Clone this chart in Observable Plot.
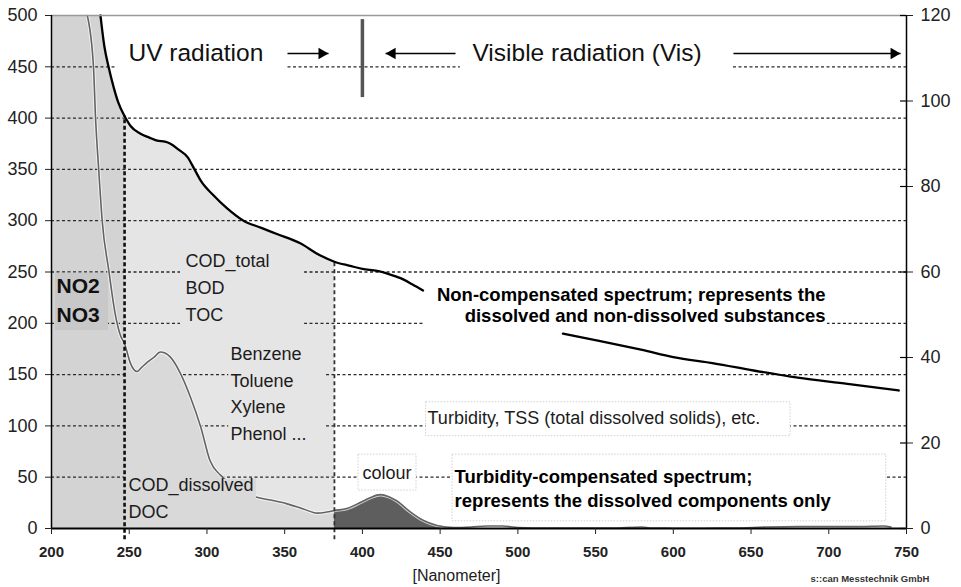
<!DOCTYPE html>
<html><head><meta charset="utf-8">
<script src="https://cdn.jsdelivr.net/npm/d3@7"></script>
<script src="https://cdn.jsdelivr.net/npm/@observablehq/plot@0.6"></script>
<style>body{margin:0;background:#fff} #chart{width:961px;height:587px}</style>
</head><body><div id="chart"></div>
<script>
// ---- data ----
const xTicks = [200, 250, 300, 350, 400, 450, 500, 550, 600, 650, 700, 750];
const leftTicks = [0, 50, 100, 150, 200, 250, 300, 350, 400, 450, 500];
const rightTicks = [0, 20, 40, 60, 80, 100, 120];
const rightMax = 120;
const gridValues = [50, 100, 150, 200, 250, 300, 350, 400, 450];
const regionBounds = [247, 382];          // NO2/NO3 | organics | visible
const colourEnd = 460;

// Non-compensated spectrum (null = hidden behind its label)
const nonCompNm  = [231.5, 234, 236.7, 240, 243, 247, 251, 257, 263, 268, 273, 276.5, 282, 287.5, 292, 296, 304, 313, 323.5, 335, 345, 360, 373, 382, 392, 400, 409.5, 417, 424.5, 432, 439, 485, 529, 545, 561.5, 580, 600, 626, 651.6, 680, 712, 745];
const nonCompAbs = [500, 470, 450, 430, 415, 402, 392, 385, 381, 378, 377, 375, 369, 362, 350, 339, 325, 312, 300, 293, 287, 278, 266, 260, 256, 253, 251, 248, 244, 238, 232, null, 190, 185, 180, 174, 167, 161, 154, 147, 141, 134.5];

// Turbidity-compensated spectrum
const compNm  = [223, 227, 228.3, 230.4, 232.6, 236.9, 241, 244.4, 247, 250.8, 255, 258, 261.5, 266, 270, 273, 276.5, 283, 289.4, 296, 302, 308.7, 315, 323, 332, 340, 351.6, 362, 371, 377, 382, 390, 399, 405, 411.6, 417, 422, 431, 439, 448, 458.6, 470, 480, 490, 500, 520, 540, 560, 580, 585, 600, 620, 640, 660, 680, 700, 720, 735, 740];
const compAbs = [500, 450, 401, 349, 300, 251, 209, 188, 180, 161, 153, 157, 162, 167, 172, 171, 167, 151, 128, 99, 66, 52, 44, 36, 30.5, 28, 24, 19, 15, 16, 17.5, 19.5, 25.6, 30, 33, 31, 27, 16, 8, 3, 1, 1.5, 2.5, 2.5, 1, 0.5, 0.5, 0.5, 1.5, 0.5, 0.3, 0.3, 0.5, 1.5, 2, 2, 2, 2.5, 1.5];

// ---- annotation layout (data units: nm / absorbance) ----
const headerLabels = [
  {text: "UV radiation", x: 249.5, y: 456},
  {text: "Visible radiation (Vis)", x: 470.8, y: 456}
];
const arrows = [
  {from: 351.8, to: 378.2, y: 463},
  {from: 459.9, to: 414.9, y: 463},
  {from: 638.7, to: 746.2, y: 463}
];
const uvVisDivider = [{x: 400, y1: 420, y2: 496}];
const nitrateLabels = [
  {text: "NO2", x: 203.2, y: 230},
  {text: "NO3", x: 203.2, y: 200.8}
];
const plainLabels = [
  {text: "COD_total", x: 286.2, y: 254.4},
  {text: "BOD", x: 286.2, y: 229},
  {text: "TOC", x: 286.2, y: 202.7},
  {text: "Benzene", x: 315.1, y: 164.7},
  {text: "Toluene", x: 315.1, y: 138.4},
  {text: "Xylene", x: 315.1, y: 112.1},
  {text: "Phenol ...", x: 315.1, y: 85.8},
  {text: "COD_dissolved", x: 249.5, y: 37},
  {text: "DOC", x: 249.5, y: 10.7},
  {text: "colour", x: 400.1, y: 48.7},
  {text: "Turbidity, TSS (total dissolved solids), etc.", x: 441.9, y: 102.3}
];
const nonCompLabel = [
  {text: "Non-compensated spectrum; represents the", x: 697.9, y: 222.2},
  {text: "dissolved and non-dissolved substances", x: 697.9, y: 200.8}
];
const compLabel = [
  {text: "Turbidity-compensated spectrum;", x: 459.3, y: 43.9},
  {text: "represents the dissolved components only", x: 459.3, y: 20.5}
];
const whiteBoxes = [
  {x1: 242.5, x2: 351.8, y1: 440, y2: 462},
  {x1: 463, x2: 638.7, y1: 440, y2: 462},
  {x1: 440.6, x2: 699.2, y1: 185, y2: 243}
];
const framedBoxes = [
  {x1: 397.5, x2: 434.8, y1: 37, y2: 72},
  {x1: 458, x2: 737, y1: 7, y2: 72},
  {x1: 441, x2: 675.4, y1: 90, y2: 123}
];
const lightBoxes = [
  {x1: 283, x2: 362.8, y1: 193, y2: 273},
  {x1: 314, x2: 376.3, y1: 80, y2: 188}
];
const nitrateBox = [{x1: 202.6, x2: 236.7, y1: 193, y2: 249}];
const dissolvedBox = [{x1: 247.6, x2: 331.9, y1: 2, y2: 48}];

// ---- build ----
const nonComp = nonCompNm.map((x, i) => ({x, y: nonCompAbs[i]}));
const comp = compNm.map((x, i) => ({x, y: compAbs[i]}));
const [split1, split2] = regionBounds;
const inRange = (a, b) => d => d.y != null && d.x >= a && d.x <= b;
const valueAt = x => nonComp.find(d => d.x === x).y;
const yMax = leftTicks[leftTicks.length - 1];
const font = "Liberation Sans, Arial, Helvetica, sans-serif";
const box = {x1: "x1", x2: "x2", y1: "y1", y2: "y2"};
const curve = "monotone-x";
const txt = (rows, o) => Plot.text(rows, {x: "x", y: "y", text: "text", lineAnchor: "bottom", textAnchor: "start", fill: "#1c1c1c", ...o});

const chart = Plot.plot({
  width: 961, height: 587,
  marginLeft: 51, marginRight: 55, marginTop: 15, marginBottom: 59,
  x: {domain: [xTicks[0], xTicks[xTicks.length - 1]]},
  y: {domain: [0, yMax]},
  style: {fontFamily: font, background: "#fff", overflow: "visible"},
  marks: [
    // shaded regions under the non-compensated spectrum
    Plot.areaY([{x: xTicks[0], y: yMax}, ...nonComp.filter(inRange(0, split1))], {x: "x", y: "y", fill: "#d3d3d3", curve: "linear"}),
    Plot.areaY(nonComp.filter(inRange(split1, split2)), {x: "x", y: "y", fill: "#e5e5e5", curve}),
    // dashed grid
    Plot.ruleY(gridValues, {stroke: "#2a2a2a", strokeWidth: 1.3, strokeDasharray: "3,2.5"}),
    // fills under the compensated spectrum
    Plot.areaY(comp.filter(inRange(split1, split2)), {x: "x", y: "y", fill: "#d9d9d9", curve}),
    Plot.areaY(comp.filter(inRange(split2, colourEnd)), {x: "x", y: "y", fill: "#5e5e5e", curve}),
    // label backgrounds
    Plot.rect(whiteBoxes, {...box, fill: "#fff"}),
    Plot.rect(framedBoxes, {...box, fill: "#fff", stroke: "#d0d0d0", strokeDasharray: "1.5,1.5"}),
    Plot.rect(lightBoxes, {...box, fill: "#e5e5e5"}),
    Plot.rect(nitrateBox, {...box, fill: "#c8c8c8"}),
    // compensated spectrum
    Plot.line(comp, {x: "x", y: "y", stroke: "#fff", strokeWidth: 3.5, strokeOpacity: 0.7, curve}),
    Plot.line(comp, {x: "x", y: "y", stroke: "#636363", strokeWidth: 1.6, curve}),
    Plot.rect(dissolvedBox, {...box, fill: "#d9d9d9"}),
    // region dividers
    Plot.ruleX([split1], {y1: -11, y2: valueAt(split1), stroke: "#111", strokeWidth: 2.6, strokeDasharray: "4,2.5"}),
    Plot.ruleX([split2], {y1: -11, y2: valueAt(split2), stroke: "#333", strokeWidth: 1.8, strokeDasharray: "4,3"}),
    // non-compensated spectrum
    Plot.line(nonComp, {x: "x", y: "y", stroke: "#000", strokeWidth: 2.3, curve}),
    // frame & axes
    Plot.ruleY([yMax], {stroke: "#999", strokeWidth: 1.5}),
    Plot.ruleX([xTicks[0]], {stroke: "#000", strokeWidth: 1.5}),
    Plot.ruleX([xTicks[xTicks.length - 1]], {stroke: "#000", strokeWidth: 1.5}),
    Plot.ruleY([0], {stroke: "#000", strokeWidth: 2}),
    Plot.axisX({ticks: xTicks, tickSize: 6, tickPadding: 12, fontSize: 15, fontWeight: "bold", label: null, tickFormat: d => d, color: "#222"}),
    Plot.axisY({anchor: "left", ticks: leftTicks, tickSize: 6, tickPadding: 8, fontSize: 18, label: null, tickFormat: d => d, color: "#222"}),
    Plot.axisY({anchor: "right", ticks: rightTicks.map(v => v * yMax / rightMax), tickSize: 6, tickPadding: 8, fontSize: 18, label: null, tickFormat: d => Math.round(d * rightMax / yMax), color: "#222"}),
    Plot.ruleY(rightTicks.map(v => v * yMax / rightMax), {x1: xTicks[xTicks.length - 1], x2: xTicks[xTicks.length - 1], insetLeft: -6, stroke: "#000", strokeWidth: 1.2}),
    // UV / Vis header
    Plot.ruleX(uvVisDivider, {x: "x", y1: "y1", y2: "y2", stroke: "#555", strokeWidth: 3.5}),
    Plot.link(arrows, {x1: "from", x2: "to", y1: "y", y2: "y", stroke: "#000", strokeWidth: 1.6}),
    Plot.dot(arrows.filter(d => d.to > d.from), {x: "to", y: "y", symbol: "triangle", r: 4.3, rotate: 90, dx: -6.7, fill: "#000", stroke: "none"}),
    Plot.dot(arrows.filter(d => d.to < d.from), {x: "to", y: "y", symbol: "triangle", r: 4.3, rotate: -90, dx: 6.7, fill: "#000", stroke: "none"}),
    txt(headerLabels, {fontSize: 24.5, fill: "#111"}),
    txt(nitrateLabels, {fontSize: 21, fontWeight: "bold", fill: "#111"}),
    txt(plainLabels, {fontSize: 18}),
    txt(nonCompLabel, {fontSize: 18.5, fontWeight: "bold", textAnchor: "end", fill: "#000"}),
    txt(compLabel, {fontSize: 18.5, fontWeight: "bold", fill: "#000"}),
    txt([{text: "[Nanometer]", x: 432.2, y: -50.7}], {fontSize: 16}),
    txt([{text: "s::can Messtechnik GmbH", x: 688.3, y: -52.6}], {fontSize: 9.5, fontWeight: "bold", fill: "#333"})
  ]
});
document.getElementById("chart").appendChild(chart);
</script>
</body></html>
